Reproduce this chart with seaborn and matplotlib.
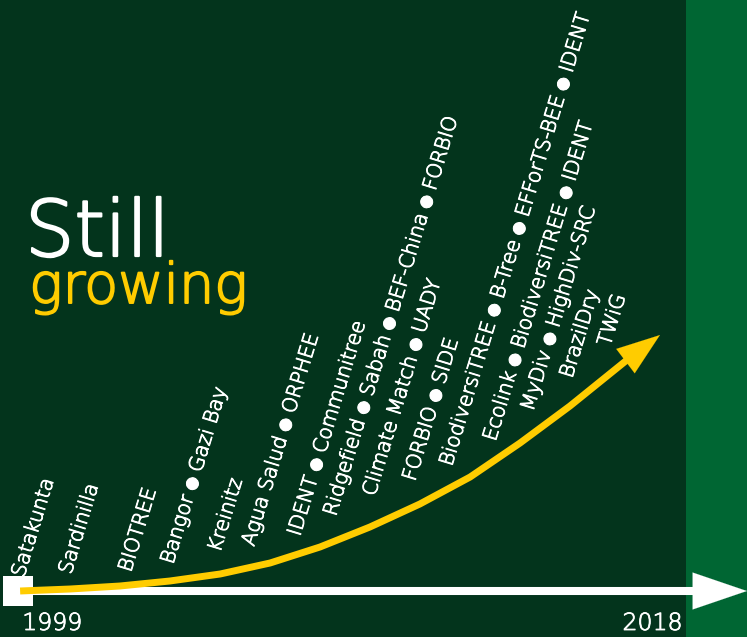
import matplotlib
matplotlib.use('Agg')
import matplotlib.pyplot as plt
import matplotlib.patheffects as pe
import seaborn as sns

# one slanted column of experiment names per start position on the timeline
columns = [
    'Satakunta',
    'Sardinilla',
    'BIOTREE',
    'Bangor \u25cf Gazi Bay',
    'Kreinitz',
    'Agua Salud \u25cf ORPHEE',
    'IDENT \u25cf Communitree',
    'Ridgefield \u25cf Sabah \u25cf BEF-China \u25cf FORBIO',
    'Climate Match \u25cf UADY',
    'FORBIO \u25cf SIDE',
    'BiodiversiTREE \u25cf B-Tree \u25cf EFForTS-BEE \u25cf IDENT',
    'Ecolink \u25cf BiodiversiTREE \u25cf IDENT',
    'MyDiv \u25cf HighDiv-SRC',
    'BrazilDry',
    'TWiG',
]
col_year = [1999.17, 2000.51, 2002.21, 2003.41, 2004.75, 2005.71, 2007.02, 2008.04,
            2009.15, 2010.29, 2011.34, 2012.58, 2013.65, 2014.76, 2015.84]
col_height = [59, 62, 64, 72, 84, 90, 100, 120, 140, 155, 170, 195, 225, 258, 290]

# the yellow "growth" arrow
curve_year = [1999.06, 2000.48, 2001.90, 2003.32, 2004.75, 2006.17, 2007.59,
              2009.01, 2010.43, 2011.86, 2013.28, 2014.70, 2016.32]
curve_height = [46, 48, 51, 56, 63, 74, 90, 110, 133, 160, 194, 231, 277]
tip_year, tip_height = 2017.26, 302

first_year, last_year = 1999, 2018
axis_height = 46

BG = '#03341c'
PANEL = '#006633'
YELLOW = '#ffcc00'

sns.set_style('dark', {'axes.facecolor': BG, 'figure.facecolor': BG})
# thin DejaVu for letters, the mono face supplies the bullet glyph
plt.rcParams['font.family'] = ['DejaVu Sans', 'DejaVu Sans Mono']


def thicker(width, colour):
    return [pe.withStroke(linewidth=width, foreground=colour)]


fig = plt.figure(figsize=(7.47, 6.37), dpi=100)
ax = fig.add_axes([0, 0, 1, 1])
ax.set_xlim(1998.488, 2019.735)
ax.set_ylim(0, 637)
ax.axvspan(last_year, 2019.735, color=PANEL, lw=0)

# timeline axis with start square and arrow
sns.scatterplot(x=[first_year], y=[axis_height], marker='s', s=440, color='white',
                linewidth=0, ax=ax, zorder=2)
sns.lineplot(x=[first_year, 2019.2], y=[axis_height, axis_height], color='white',
             lw=5.8, ax=ax, zorder=3)
ax.annotate('', xy=(2019.735, axis_height), xytext=(2019.1, axis_height),
            arrowprops=dict(arrowstyle='-|>,head_length=39,head_width=13.3',
                            mutation_scale=1, lw=0.1, fc='white', ec='white',
                            shrinkA=0, shrinkB=0), zorder=3)

sns.lineplot(x=curve_year, y=curve_height, sort=False, color=YELLOW, lw=5,
             solid_capstyle='butt', ax=ax, zorder=4)
ax.annotate('', xy=(tip_year, tip_height), xytext=(curve_year[-1], curve_height[-1]),
            arrowprops=dict(arrowstyle='-|>,head_length=31,head_width=11',
                            mutation_scale=1, lw=0.1, fc=YELLOW, ec=YELLOW,
                            shrinkA=0, shrinkB=0), zorder=4)

for yr, h, label in zip(col_year, col_height, columns):
    ax.text(yr, h, label, rotation=73, rotation_mode='anchor', ha='left',
            va='baseline', fontsize=14.5, color='white', fontweight=200,
            path_effects=thicker(0.7, 'white'))

ax.text(1999.2, 381, 'Still', fontsize=56, color='white', fontweight=200,
        va='baseline', path_effects=thicker(1.6, 'white'))
ax.text(1999.32, 334, 'growing', fontsize=40, color=YELLOW, fontweight=200,
        va='baseline', path_effects=thicker(1.4, YELLOW))

ax.text(1999.12, 2, str(first_year), fontsize=17, color='white', va='bottom',
        fontweight=200, path_effects=thicker(0.6, 'white'))
ax.text(2017.91, 2, str(last_year), fontsize=17, color='white', va='bottom',
        ha='right', fontweight=200, path_effects=thicker(0.6, 'white'))

ax.set_axis_off()
fig.savefig('out.png', dpi=100, facecolor=BG)
